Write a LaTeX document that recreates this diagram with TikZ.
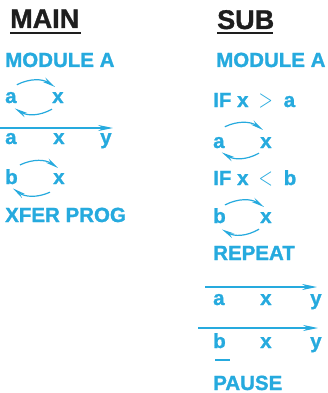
\documentclass[tikz,border=0pt]{standalone}
\usepackage{graphicx}
\usepackage{fontspec}
\setmainfont{Liberation Sans}[BoldFeatures={FakeBold=1.2}]
\usetikzlibrary{arrows.meta}
\definecolor{ink}{RGB}{38,170,222}
\definecolor{headink}{RGB}{30,30,30}
\newcommand{\relsym}[1]{\scalebox{0.9}[1.25]{$#1$}}
\begin{document}
\begin{tikzpicture}[x=1pt,y=-1pt,
    txt/.style={anchor=base west,inner sep=0pt,text=ink,font=\fontsize{20.5}{21}\selectfont\bfseries},
    hd/.style={anchor=base west,inner sep=0pt,text=headink,font=\fontsize{27}{27}\selectfont\bfseries},
    lp/.style={draw=ink,line width=1.2pt,-{Stealth[length=13pt,width=5pt]}},
    ar/.style={draw=ink,line width=1.2pt,-{Stealth[length=15pt,width=6pt]}}]
  \useasboundingbox (0,0) rectangle (327,393);
  % main column
  \node[hd] (main) at (10,28) {MAIN};
  \draw[headink,line width=2.5pt] ([shift={(0,5)}]main.base west)--([shift={(2,5)}]main.base east);
  \node[txt] (modA) at (5,67) {MODULE A};
  \node[txt] (a1) at (5,103) {a};
  \node[txt] (x1) at (52,103) {x};
  \draw[lp] ([shift={(0,-7)}]a1.north east) to[bend left=30] ([shift={(3,-5)}]x1.north west);
  \draw[lp] ([shift={(0,6)}]x1.south west) to[bend left=30] ([shift={(-2,5)}]a1.south east);
  \coordinate (l1) at (0,128);
  \coordinate (r1) at (113,128);
  \draw[ar] (l1)--(r1);
  \node[txt] (a3) at (5,144) {a};
  \node[txt] (x3) at (53,144) {x};
  \node[txt] (y3) at (100,144) {y};
  \node[txt] (b1) at (5,184) {b};
  \node[txt] (x4) at (53,184) {x};
  \draw[lp] ([shift={(2,-4)}]b1.north east) to[bend left=30] ([shift={(5,-5)}]x4.north west);
  \draw[lp] ([shift={(-3,8)}]x4.south west) to[bend left=30] ([shift={(-5,4)}]b1.south east);
  \node[txt] (xfer) at (5,222) {XFER PROG};
  % sub column
  \node[hd] (sub) at (217,29) {SUB};
  \draw[headink,line width=2.5pt] ([shift={(0,4)}]sub.base west)--([shift={(-1,4)}]sub.base east);
  \node[txt] (modB) at (216,67) {MODULE A};
  \node[txt] (if1) at (213,107) {IF x\hspace{10pt}\relsym{>}\hspace{11pt}a};
  \node[txt] (a2) at (213,148) {a};
  \node[txt] (x2) at (260,148) {x};
  \draw[lp] ([shift={(0,-10)}]a2.north east) to[bend left=30] ([shift={(3,-7)}]x2.north west);
  \draw[lp] ([shift={(-1,5)}]x2.south west) to[bend left=30] ([shift={(-3,4)}]a2.south east);
  \node[txt] (if2) at (213,185) {IF x\hspace{10pt}\relsym{<}\hspace{11pt}b};
  \node[txt] (b2) at (213,223) {b};
  \node[txt] (x5) at (260,223) {x};
  \draw[lp] ([shift={(-1,-3)}]b2.north east) to[bend left=30] ([shift={(4,-5)}]x5.north west);
  \draw[lp] ([shift={(-1,6)}]x5.south west) to[bend left=30] ([shift={(-4,6)}]b2.south east);
  \node[txt] (rep) at (213,260) {REPEAT};
  \coordinate (l2) at (205,287);
  \coordinate (r2) at (317,287);
  \draw[ar] (l2)--(r2);
  \node[txt] (a4) at (213,305) {a};
  \node[txt] (x6) at (260,305) {x};
  \node[txt] (y6) at (310,305) {y};
  \coordinate (l3) at (198,328);
  \coordinate (r3) at (318,328);
  \draw[ar] (l3)--(r3);
  \node[txt] (b3) at (213,348) {b};
  \node[txt] (x7) at (260,348) {x};
  \node[txt] (y7) at (310,348) {y};
  \draw[ink,line width=2pt] ([shift={(2,12)}]b3.base west)--([shift={(17,12)}]b3.base west);
  \node[txt] (pause) at (213,390) {PAUSE};
\end{tikzpicture}
\end{document}
